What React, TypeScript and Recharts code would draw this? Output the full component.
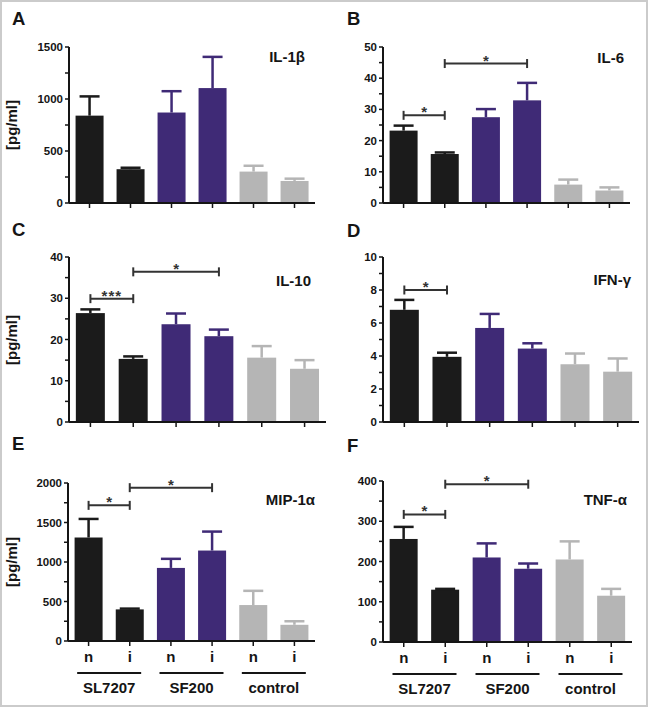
import { BarChart, Bar, XAxis, YAxis, ReferenceLine } from 'recharts';

const conditions = ['n', 'i', 'n', 'i', 'n', 'i'];
const groups = ['SL7207', 'SL7207', 'SF200', 'SF200', 'control', 'control'];

const il1bMean = [840, 325, 870, 1105, 302, 212];
const il1bSem = [185, 14, 205, 300, 56, 22];
const il6Mean = [23.2, 15.7, 27.5, 32.9, 5.9, 4.0];
const il6Sem = [1.6, 0.5, 2.6, 5.6, 1.6, 1.0];
const il10Mean = [26.4, 15.3, 23.7, 20.8, 15.6, 12.9];
const il10Sem = [0.9, 0.6, 2.6, 1.6, 2.8, 2.1];
const ifngMean = [6.8, 3.95, 5.7, 4.45, 3.5, 3.05];
const ifngSem = [0.6, 0.25, 0.85, 0.32, 0.65, 0.8];
const mip1aMean = [1310, 400, 925, 1145, 455, 205];
const mip1aSem = [235, 10, 115, 240, 180, 45];
const tnfaMean = [256, 130, 210, 182, 205, 115];
const tnfaSem = [30, 2, 35, 13, 45, 17];

const il1bTicks = [0, 250, 500, 750, 1000, 1250, 1500];
const il1bLabels = [0, 500, 1000, 1500];
const il6Ticks = [0, 5, 10, 15, 20, 25, 30, 35, 40, 45, 50];
const il6Labels = [0, 10, 20, 30, 40, 50];
const il10Ticks = [0, 5, 10, 15, 20, 25, 30, 35, 40];
const il10Labels = [0, 10, 20, 30, 40];
const ifngTicks = [0, 1, 2, 3, 4, 5, 6, 7, 8, 9, 10];
const ifngLabels = [0, 2, 4, 6, 8, 10];
const mip1aTicks = [0, 250, 500, 750, 1000, 1250, 1500, 1750, 2000];
const mip1aLabels = [0, 500, 1000, 1500, 2000];
const tnfaTicks = [0, 50, 100, 150, 200, 250, 300, 350, 400];
const tnfaLabels = [0, 100, 200, 300, 400];

// significance brackets: [from bar, to bar, height, stars]
type Bracket = { from: number; to: number; at: number; label: string };
const il6Brackets: Bracket[] = [
  { from: 0, to: 1, at: 28.1, label: '*' },
  { from: 1, to: 3, at: 44.7, label: '*' },
];
const il10Brackets: Bracket[] = [
  { from: 0, to: 1, at: 29.9, label: '***' },
  { from: 1, to: 3, at: 36.4, label: '*' },
];
const ifngBrackets: Bracket[] = [{ from: 0, to: 1, at: 8.0, label: '*' }];
const mip1aBrackets: Bracket[] = [
  { from: 0, to: 1, at: 1717, label: '*' },
  { from: 1, to: 3, at: 1941, label: '*' },
];
const tnfaBrackets: Bracket[] = [
  { from: 0, to: 1, at: 317, label: '*' },
  { from: 1, to: 3, at: 392, label: '*' },
];

const groupColors: Record<string, string> = {
  SL7207: '#1b1b1b',
  SF200: '#3f2a76',
  control: '#b5b5b5',
};
const FONT = '"Liberation Sans", Arial, Helvetica, sans-serif';
const INK = '#151515';

type Row = { key: string; cond: string; group: string; mean: number; sem: number };

const buildRows = (means: number[], sems: number[]): Row[] =>
  means.map((m, i) => ({
    key: `${groups[i]}-${conditions[i]}`,
    cond: conditions[i],
    group: groups[i],
    mean: m,
    sem: sems[i],
  }));

const BarWithError = (props: any) => {
  const { x, y, width, height, payload } = props;
  const color = groupColors[payload.group];
  const cx = x + width / 2;
  const perUnit = payload.mean ? height / payload.mean : 0;
  const top = y - payload.sem * perUnit;
  return (
    <g>
      <rect x={x} y={y} width={width} height={height} fill={color} />
      <line x1={cx} y1={y} x2={cx} y2={top} stroke={color} strokeWidth={2.5} />
      <line x1={cx - 10} y1={top} x2={cx + 10} y2={top} stroke={color} strokeWidth={2.5} />
    </g>
  );
};

const bracketShape = (label: string) => (p: any) => {
  const { x1, y1, x2 } = p;
  return (
    <g>
      <line x1={x1} y1={y1} x2={x2} y2={y1} stroke="#333" strokeWidth={2} />
      <line x1={x1} y1={y1 - 4.5} x2={x1} y2={y1 + 4.5} stroke="#333" strokeWidth={2} />
      <line x1={x2} y1={y1 - 4.5} x2={x2} y2={y1 + 4.5} stroke="#333" strokeWidth={2} />
      <text
        x={(x1 + x2) / 2}
        y={y1 + 2}
        textAnchor="middle"
        fontSize={15}
        fontWeight="bold"
        fontFamily={FONT}
        fill="#333"
        letterSpacing={label.length > 1 ? 1 : 0}>
        {label}
      </text>
    </g>
  );
};

const makeYTick = (labels: number[]) => (p: any) => {
  const v = p.payload.value;
  if (!labels.includes(v)) return <g />;
  return (
    <text x={p.x} y={p.y} dy={4} textAnchor="end" fontSize={11.5} fontWeight="bold" fontFamily={FONT} fill={INK}>
      {v}
    </text>
  );
};

const makeXTick = (rows: Row[], show: boolean, band: number) => (p: any) => {
  if (!show) return <g />;
  const row = rows.find((r) => r.key === p.payload.value);
  if (!row) return <g />;
  const isSecond = row.cond === 'i';
  const mid = p.x - band / 2;
  return (
    <g>
      <text x={p.x} y={p.y + 16} textAnchor="middle" fontSize={15} fontWeight="bold" fontFamily={FONT} fill={INK}>
        {row.cond}
      </text>
      {isSecond && (
        <g>
          <line x1={mid - 32} y1={p.y + 27} x2={mid + 32} y2={p.y + 27} stroke={INK} strokeWidth={2} />
          <text x={mid} y={p.y + 47} textAnchor="middle" fontSize={15} fontWeight="bold" fontFamily={FONT} fill={INK}>
            {row.group}
          </text>
        </g>
      )}
    </g>
  );
};

type PanelConfig = {
  left: number;
  top: number;
  height: number;
  axisX: number;
  plotRight: number;
  plotTop: number;
  plotBottom: number;
  rows: Row[];
  max: number;
  ticks: number[];
  labels: number[];
  brackets: Bracket[];
  bottom: boolean;
};

const Panel = ({ cfg }: { cfg: PanelConfig }) => {
  const band = (cfg.plotRight - cfg.axisX) / cfg.rows.length;
  return (
    <div style={{ position: 'absolute', left: cfg.left, top: cfg.top }}>
      <BarChart
        width={cfg.plotRight - cfg.left + 6}
        height={cfg.height}
        data={cfg.rows}
        margin={{ top: cfg.plotTop - cfg.top, right: 6, bottom: 0, left: 0 }}
        barCategoryGap="16%">
        <XAxis
          dataKey="key"
          height={cfg.height - (cfg.plotBottom - cfg.top)}
          axisLine={{ stroke: INK, strokeWidth: 2 }}
          tickLine={{ stroke: INK, strokeWidth: 1.5 }}
          tickSize={5}
          tickMargin={0}
          interval={0}
          tick={makeXTick(cfg.rows, cfg.bottom, band)}
        />
        <YAxis
          width={cfg.axisX - cfg.left}
          domain={[0, cfg.max]}
          ticks={cfg.ticks}
          interval={0}
          allowDataOverflow
          axisLine={{ stroke: INK, strokeWidth: 2 }}
          tickLine={{ stroke: INK, strokeWidth: 1.5 }}
          tickSize={4}
          tickMargin={2}
          tick={makeYTick(cfg.labels)}
        />
        <Bar dataKey="mean" shape={BarWithError} isAnimationActive={false} />
        {cfg.brackets.map((b, i) => (
          <ReferenceLine
            key={i}
            segment={[
              { x: cfg.rows[b.from].key, y: b.at },
              { x: cfg.rows[b.to].key, y: b.at },
            ]}
            ifOverflow="visible"
            shape={bracketShape(b.label)}
          />
        ))}
      </BarChart>
    </div>
  );
};

const panels: PanelConfig[] = [
  { left: 0, top: 0, height: 220, axisX: 69, plotRight: 315, plotTop: 47, plotBottom: 203, rows: buildRows(il1bMean, il1bSem), max: 1500, ticks: il1bTicks, labels: il1bLabels, brackets: [], bottom: false },
  { left: 324, top: 0, height: 220, axisX: 383, plotRight: 630, plotTop: 47, plotBottom: 203, rows: buildRows(il6Mean, il6Sem), max: 50, ticks: il6Ticks, labels: il6Labels, brackets: il6Brackets, bottom: false },
  { left: 0, top: 220, height: 225, axisX: 69, plotRight: 326, plotTop: 257, plotBottom: 422, rows: buildRows(il10Mean, il10Sem), max: 40, ticks: il10Ticks, labels: il10Labels, brackets: il10Brackets, bottom: false },
  { left: 324, top: 220, height: 225, axisX: 383, plotRight: 639, plotTop: 257, plotBottom: 422, rows: buildRows(ifngMean, ifngSem), max: 10, ticks: ifngTicks, labels: ifngLabels, brackets: ifngBrackets, bottom: false },
  { left: 0, top: 450, height: 255, axisX: 68, plotRight: 315, plotTop: 483, plotBottom: 641, rows: buildRows(mip1aMean, mip1aSem), max: 2000, ticks: mip1aTicks, labels: mip1aLabels, brackets: mip1aBrackets, bottom: true },
  { left: 324, top: 450, height: 255, axisX: 383, plotRight: 632, plotTop: 481, plotBottom: 642, rows: buildRows(tnfaMean, tnfaSem), max: 400, ticks: tnfaTicks, labels: tnfaLabels, brackets: tnfaBrackets, bottom: true },
];

const letters = [
  { t: 'A', x: 12, y: 25 },
  { t: 'B', x: 347, y: 25 },
  { t: 'C', x: 12, y: 236 },
  { t: 'D', x: 347, y: 237 },
  { t: 'E', x: 12, y: 450 },
  { t: 'F', x: 347, y: 452 },
];
const titles = [
  { t: 'IL-1β', x: 305, y: 62 },
  { t: 'IL-6', x: 624, y: 63 },
  { t: 'IL-10', x: 311, y: 286 },
  { t: 'IFN-γ', x: 631, y: 285 },
  { t: 'MIP-1α', x: 315, y: 505 },
  { t: 'TNF-α', x: 627, y: 505 },
];
const yLabels = [125, 340, 562];

export default function App() {
  return (
    <div style={{ position: 'absolute', left: 0, top: 0, width: 648, height: 707, background: '#fff', fontFamily: FONT }}>
      {panels.map((cfg, i) => (
        <Panel key={i} cfg={cfg} />
      ))}
      <svg width={648} height={707} style={{ position: 'absolute', left: 0, top: 0, pointerEvents: 'none' }}>
        {letters.map((l) => (
          <text key={l.t} x={l.x} y={l.y} fontSize={18.5} fontWeight="bold" fontFamily={FONT} fill={INK}>
            {l.t}
          </text>
        ))}
        {titles.map((l) => (
          <text key={l.t} x={l.x} y={l.y} textAnchor="end" fontSize={15} fontWeight="bold" fontFamily={FONT} fill={INK}>
            {l.t}
          </text>
        ))}
        {yLabels.map((cy) => (
          <text
            key={cy}
            transform={`translate(17, ${cy}) rotate(-90)`}
            textAnchor="middle"
            fontSize={15}
            fontWeight="bold"
            fontFamily={FONT}
            fill={INK}>
            [pg/ml]
          </text>
        ))}
      </svg>
      <div
        style={{
          position: 'absolute',
          left: 0,
          top: 0,
          width: 648,
          height: 707,
          boxSizing: 'border-box',
          border: '2px solid #cbcbcb',
          pointerEvents: 'none',
        }}
      />
    </div>
  );
}
